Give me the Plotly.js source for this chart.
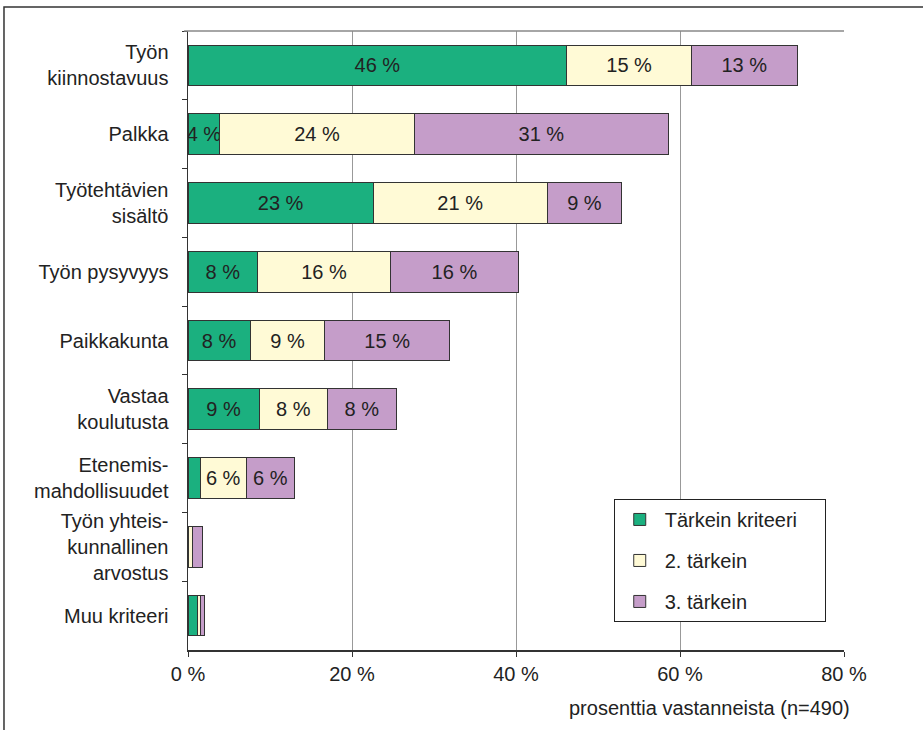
<!DOCTYPE html>
<html><head><meta charset="utf-8">
<script src="https://cdn.plot.ly/plotly-3.0.1.min.js"></script>
<style>html,body{margin:0;padding:0;background:#fff}#chart{width:923px;height:730px}</style>
</head><body><div id="chart"></div>
<script>
const categories = ["Työn<br>kiinnostavuus","Palkka","Työtehtävien<br>sisältö","Työn pysyvyys","Paikkakunta","Vastaa<br>koulutusta","Etenemis-<br>mahdollisuudet","Työn yhteis-<br>kunnallinen<br>arvostus","Muu kriteeri"];
const seriesNames = ["Tärkein kriteeri","2. tärkein","3. tärkein"];
const first  = [46.2, 3.9, 22.6, 8.5, 7.6, 8.7, 1.5, 0.1, 1.1];
const second = [15.2, 23.7, 21.2, 16.2, 9.1, 8.3, 5.6, 0.4, 0.4];
const third  = [12.9, 31.0, 9.1, 15.6, 15.2, 8.4, 5.9, 1.3, 0.5];
const firstLabels  = ["46 %","4 %","23 %","8 %","8 %","9 %","","",""];
const secondLabels = ["15 %","24 %","21 %","16 %","9 %","8 %","6 %","",""];
const thirdLabels  = ["13 %","31 %","9 %","16 %","15 %","8 %","6 %","",""];
const xTicks = [0,20,40,60,80];
const xTickText = ["0 %","20 %","40 %","60 %","80 %"];
const xTitle = "prosenttia vastanneista (n=490)";

const colors = ["#1bb07f","#fffad6","#c59dc9"];
const vals = [first, second, third];
const labs = [firstLabels, secondLabels, thirdLabels];
const FAM = "Liberation Sans, Arial, sans-serif";
const font = {family:FAM, size:20, color:"#222"};
const PAD = "\u00a0\u00a0\u00a0\u00a0";

const traces = vals.map((v,i)=>({
  type:"bar", orientation:"h", name:seriesNames[i] + (i===0 ? PAD : ""),
  legendgroup:"g"+i,
  y:categories, x:v, text:labs[i],
  textposition:"inside", insidetextanchor:"middle", constraintext:"none", textangle:0,
  textfont:{family:FAM, size:20, color:"#222"},
  hoverinfo:"x+y+name",
  marker:{color:colors[i], line:{color:"#333", width:1}},
  width:0.59
}));

const layout = {
  width:923, height:730,
  margin:{l:188, r:79, t:31, b:80},
  barmode:"stack",
  paper_bgcolor:"#fff", plot_bgcolor:"#fff",
  font:font,
  showlegend:true,
  legend:{x:0.649, y:0.244, xanchor:"left", yanchor:"top",
    bordercolor:"#222", borderwidth:1, bgcolor:"#fff",
    font:{family:FAM, size:20, color:"#222"},
    traceorder:"grouped", tracegroupgap:12, itemwidth:40},
  xaxis:{range:[0,80], tickvals:xTicks, ticktext:xTickText,
    showgrid:true, gridcolor:"#999", gridwidth:1, zeroline:false,
    showline:true, linecolor:"#333", linewidth:1.5,
    ticks:"outside", ticklen:5, tickcolor:"#333",
    tickfont:{family:FAM, size:20, color:"#222"}},
  yaxis:{type:"category", autorange:"reversed", range:[8.55,-0.5],
    showline:true, linecolor:"#333", linewidth:1.5,
    showgrid:false, zeroline:false,
    ticks:"outside", ticklen:5, tickcolor:"#333", tickson:"boundaries",
    ticklabelstandoff:14,
    tickfont:{family:FAM, size:20, color:"#222"}},
  shapes:[
    {type:"rect", xref:"paper", yref:"paper", x0:-0.2805, x1:1.3, y0:-0.3, y1:1.0388,
     line:{color:"#333", width:1.5}, fillcolor:"rgba(0,0,0,0)", layer:"below"},
    {type:"line", xref:"paper", yref:"paper", x0:-0.006, x1:1, y0:1, y1:1,
     line:{color:"#888", width:1.5}}
  ],
  annotations:[
    {text:xTitle, xref:"paper", yref:"paper", x:1.012, y:-0.072, xanchor:"right", yanchor:"top",
     showarrow:false, font:{family:FAM, size:20, color:"#222"}}
  ]
};
Plotly.newPlot("chart", traces, layout, {displayModeBar:false, staticPlot:true});
</script></body></html>
